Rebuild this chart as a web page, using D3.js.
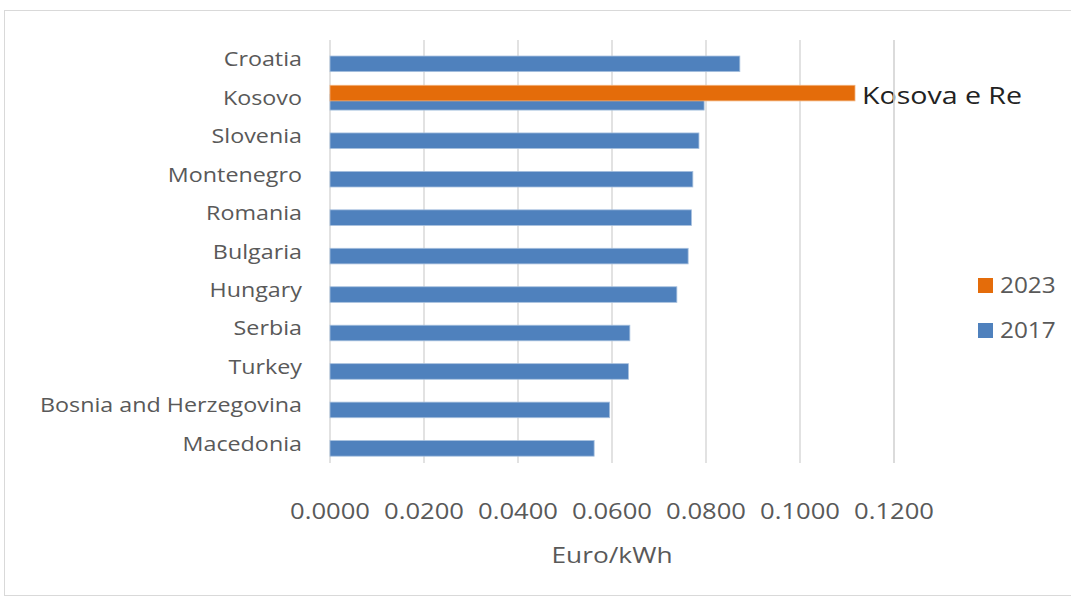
<!DOCTYPE html>
<html>
<head>
<meta charset="utf-8">
<script src="https://cdn.jsdelivr.net/npm/d3@7"></script>
<style>
  html, body { margin: 0; padding: 0; background: #fff; }
  svg { display: block; }
  text { font-family: "Open Sans", Lato, sans-serif; }
</style>
</head>
<body>
<div id="chart"></div>
<script>
// categories top to bottom
const countries = ['Croatia', 'Kosovo', 'Slovenia', 'Montenegro', 'Romania', 'Bulgaria',
    'Hungary', 'Serbia', 'Turkey', 'Bosnia and Herzegovina', 'Macedonia'];
const series = ['2023', '2017'];
const values2017 = [0.0872, 0.0796, 0.0785, 0.0772, 0.0769, 0.0762, 0.0738, 0.0638, 0.0635, 0.0595, 0.0562];
const values2023 = [null, 0.1117, null, null, null, null, null, null, null, null, null];
const labels2023 = [null, 'Kosova e Re', null, null, null, null, null, null, null, null, null];
const xTicks = [0, 0.02, 0.04, 0.06, 0.08, 0.10, 0.12];
const axisTitle = 'Euro/kWh';

const W = 1071, H = 599;
const colors = { '2017': '#4F81BD', '2023': '#E46C0A' };
const textGray = '#595959';

const svg = d3.select('#chart').append('svg')
    .attr('width', W).attr('height', H);

// chart frame
svg.append('rect')
    .attr('x', 4.5).attr('y', 10.5)
    .attr('width', W + 10).attr('height', 585)
    .attr('fill', 'none').attr('stroke', '#D9D9D9');

const x = d3.scaleLinear().domain([0, 0.12]).range([330, 894]);
const y = d3.scaleBand().domain(countries).range([40, 463]);
const barH = 15.6;
const offset = d3.scalePoint().domain(series).range([-4.6, 4.6]);

// the picture is a bit wide, so text gets stretched horizontally around its anchor
function stretched(sel, tx, ty, sx) {
    return sel.attr('transform', `translate(${tx},${ty}) scale(${sx},1)`);
}

// gridlines
svg.append('g').selectAll('line')
    .data(xTicks)
    .enter().append('line')
    .attr('x1', d => x(d)).attr('x2', d => x(d))
    .attr('y1', 40).attr('y2', 463)
    .attr('stroke', '#D9D9D9').attr('stroke-width', 1.5);

// bars: 2017 first, 2023 on top
const rows = countries.map((c, i) => ({ c, v2017: values2017[i], v2023: values2023[i], lab: labels2023[i] }));

svg.append('g').selectAll('rect')
    .data(rows)
    .enter().append('rect')
    .attr('x', x(0))
    .attr('y', d => y(d.c) + y.bandwidth() / 2 + offset('2017') - barH / 2)
    .attr('width', d => x(d.v2017) - x(0))
    .attr('height', barH)
    .attr('fill', colors['2017'])
    .attr('stroke', '#A7C0DE').attr('stroke-width', 0.8);

svg.append('g').selectAll('rect')
    .data(rows.filter(d => d.v2023 != null))
    .enter().append('rect')
    .attr('x', x(0))
    .attr('y', d => y(d.c) + y.bandwidth() / 2 + offset('2023') - barH / 2)
    .attr('width', d => x(d.v2023) - x(0))
    .attr('height', barH)
    .attr('fill', colors['2023'])
    .attr('stroke', '#F2B07A').attr('stroke-width', 0.8);

// data label for 2023 bar
svg.append('g').selectAll('text')
    .data(rows.filter(d => d.lab))
    .enter().append('text')
    .each(function (d) {
        stretched(d3.select(this), x(d.v2023) + 7, y(d.c) + y.bandwidth() / 2 + offset('2023') + 11, 1.19);
    })
    .attr('font-size', 24)
    .attr('fill', '#222')
    .text(d => d.lab);

// last gridline runs over the label, like the original
svg.append('line')
    .attr('x1', x(0.12)).attr('x2', x(0.12))
    .attr('y1', 40).attr('y2', 463)
    .attr('stroke', '#D9D9D9').attr('stroke-width', 1.5);

// category labels
svg.append('g').selectAll('text')
    .data(countries)
    .enter().append('text')
    .each(function (d) {
        stretched(d3.select(this), 302, y(d) + y.bandwidth() / 2 + 7, 1.165);
    })
    .attr('text-anchor', 'end')
    .attr('font-size', 20)
    .attr('fill', textGray)
    .text(d => d);

// x tick labels
svg.append('g').selectAll('text')
    .data(xTicks)
    .enter().append('text')
    .each(function (d) {
        stretched(d3.select(this), x(d), 519, 1.22);
    })
    .attr('text-anchor', 'middle')
    .attr('font-size', 21)
    .attr('fill', textGray)
    .text(d => d3.format('.4f')(d));

// axis title
stretched(svg.append('text'), x(0.06), 563, 1.25)
    .attr('text-anchor', 'middle')
    .attr('font-size', 21)
    .attr('fill', textGray)
    .text(axisTitle);

// legend
const legend = svg.append('g').selectAll('g')
    .data(series)
    .enter().append('g')
    .attr('transform', (d, i) => `translate(978, ${278 + i * 45})`);

legend.append('rect')
    .attr('width', 15).attr('height', 15)
    .attr('fill', d => colors[d]);

legend.append('text')
    .each(function () { stretched(d3.select(this), 22, 15, 1.16); })
    .attr('font-size', 21)
    .attr('fill', textGray)
    .text(d => d);
</script>
</body>
</html>
